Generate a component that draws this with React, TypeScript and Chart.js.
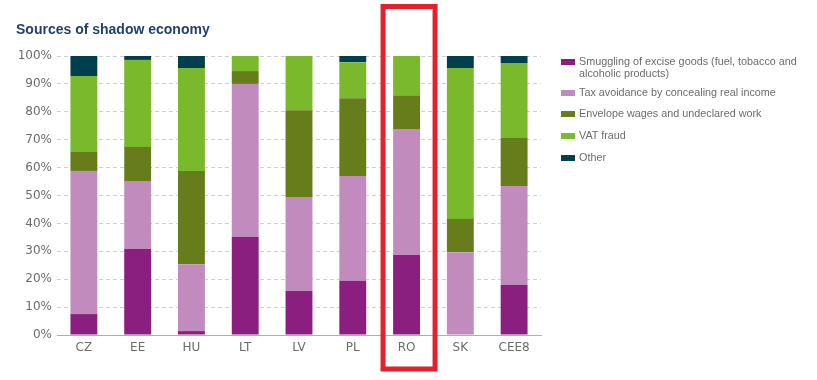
import React, { useEffect, useRef } from "react";
import { Chart, registerables } from "chart.js";

Chart.register(...registerables);

const categories = ["CZ", "EE", "HU", "LT", "LV", "PL", "RO", "SK", "CEE8"];
const smuggling = [7.5, 30.8, 1.4, 35.1, 15.8, 19.4, 28.7, 0, 17.9];
const taxAvoidance = [51.3, 24.4, 24.0, 54.9, 33.7, 37.6, 45.1, 29.7, 35.5];
const envelopeWages = [6.8, 12.2, 33.4, 4.6, 31.1, 27.9, 11.9, 11.9, 17.2];
const vatFraud = [27.2, 31.2, 36.9, 5.4, 19.4, 12.9, 14.3, 54.1, 26.9];
const other = [7.2, 1.4, 4.3, 0, 0, 2.2, 0, 4.3, 2.5];
const yTicks = [0, 10, 20, 30, 40, 50, 60, 70, 80, 90, 100];
const highlighted = "RO";

const seriesNames = [
  "Smuggling of excise goods (fuel, tobacco and alcoholic products)",
  "Tax avoidance by concealing real income",
  "Envelope wages and undeclared work",
  "VAT fraud",
  "Other",
];
const seriesColors = ["#8A1F80", "#C28BBE", "#677D1C", "#7AB82C", "#003F4E"];
const seriesValues = [smuggling, taxAvoidance, envelopeWages, vatFraud, other];

const legendTops = [56, 87, 108, 130, 152];

const highlightPlugin = {
  id: "highlightBox",
  afterDraw(chart: any) {
    const x = chart.scales.x;
    const idx = categories.indexOf(highlighted);
    if (idx < 0) return;
    const cx = x.getPixelForValue(idx);
    const area = chart.chartArea;
    const ctx = chart.ctx;
    ctx.save();
    ctx.strokeStyle = "#E3202B";
    ctx.lineWidth = 5;
    ctx.strokeRect(cx - 23.5, area.top - 49.5, 52, area.bottom - area.top + 83.5);
    ctx.restore();
  },
};

export default function App() {
  const canvasRef = useRef<HTMLCanvasElement>(null);

  useEffect(() => {
    if (!canvasRef.current) return;
    const chart = new Chart(canvasRef.current, {
      type: "bar",
      data: {
        labels: categories,
        datasets: seriesNames.map((name, i) => ({
          label: name,
          data: seriesValues[i],
          backgroundColor: seriesColors[i],
          borderWidth: 0,
          categoryPercentage: 1,
          barPercentage: 0.5,
        })),
      },
      options: {
        animation: false,
        responsive: false,
        maintainAspectRatio: false,
        layout: { padding: { top: 56, right: 276, bottom: 0, left: 0 } },
        plugins: {
          legend: { display: false },
          tooltip: { enabled: false },
          title: { display: false },
        },
        scales: {
          x: {
            stacked: true,
            grid: { display: false, drawTicks: false },
            border: { display: true, color: "#AFAFAF", width: 1 },
            ticks: {
              color: "#6B6B6B",
              font: { family: "DejaVu Sans", size: 12 },
              padding: 6,
            },
            afterFit: (s: any) => {
              s.height = 45;
            },
          },
          y: {
            stacked: true,
            min: 0,
            max: 100,
            afterBuildTicks: (s: any) => {
              s.ticks = yTicks.map((v) => ({ value: v }));
            },
            grid: {
              drawTicks: false,
              color: (ctx: any) => (ctx.tick && ctx.tick.value === 0 ? "rgba(0,0,0,0)" : "#CFCFCF"),
              lineWidth: 1,
            },
            border: { display: false, dash: [4, 3] },
            ticks: {
              color: "#6B6B6B",
              font: { family: "DejaVu Sans", size: 12 },
              padding: 5,
              callback: (v: any) => v + "%",
            },
            afterFit: (s: any) => {
              s.width = 57;
            },
          },
        },
      },
      plugins: [highlightPlugin],
    });
    return () => chart.destroy();
  }, []);

  return (
    <div style={{ position: "absolute", left: 0, top: 0, width: 817, height: 380, background: "#fff" }}>
      <canvas ref={canvasRef} width={817} height={380} style={{ position: "absolute", left: 0, top: 0 }} />
      <div
        style={{
          position: "absolute",
          left: 16,
          top: 21,
          fontFamily: "'Liberation Sans', Arial, sans-serif",
          fontWeight: "bold",
          fontSize: 14,
          color: "#213F74",
          whiteSpace: "nowrap",
        }}
      >
        Sources of shadow economy
      </div>
      {seriesNames.map((name, i) => (
        <div
          key={name}
          style={{
            position: "absolute",
            left: 561,
            top: legendTops[i],
            width: 245,
            fontFamily: "'Liberation Sans', Arial, sans-serif",
            fontSize: 10.8,
            lineHeight: "11.5px",
            color: "#6B6B6B",
          }}
        >
          <span
            style={{
              position: "absolute",
              left: 0,
              top: 2.5,
              width: 14,
              height: 6,
              background: seriesColors[i],
            }}
          />
          <div style={{ marginLeft: 18 }}>{name}</div>
        </div>
      ))}
    </div>
  );
}
